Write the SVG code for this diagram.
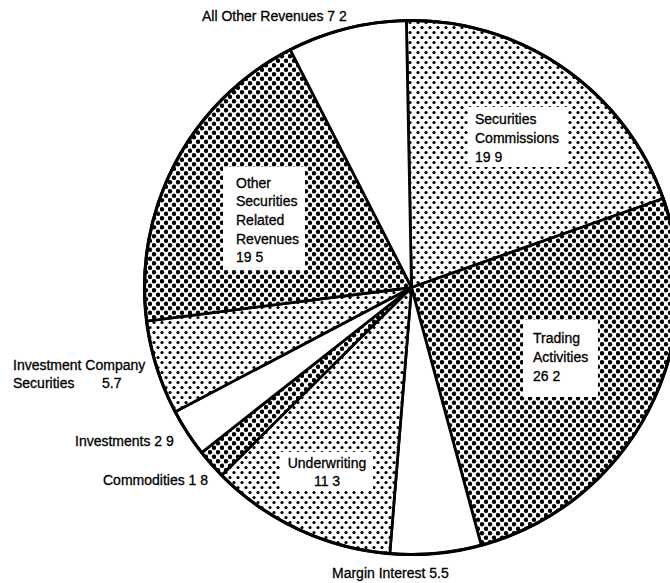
<svg xmlns="http://www.w3.org/2000/svg" width="670" height="583" viewBox="0 0 670 583">
<defs>
<pattern id="light" patternUnits="userSpaceOnUse" width="8" height="10">
<rect width="8" height="10" fill="#fff"/>
<circle cx="2" cy="2.5" r="1.6" fill="#000"/>
<circle cx="6" cy="7.5" r="1.6" fill="#000"/>
</pattern>
<pattern id="dark" patternUnits="userSpaceOnUse" width="8" height="9">
<rect width="8" height="9" fill="#fff"/>
<circle cx="2" cy="2.25" r="2.2" fill="#000"/>
<circle cx="6" cy="6.75" r="2.2" fill="#000"/>
</pattern>
</defs>
<style>
.slice{stroke:#000;stroke-width:2.8;stroke-linejoin:round}
.lt{fill:url(#light)}
.dk{fill:url(#dark)}
.wh{fill:#fff}
.box{fill:#fff;stroke:none}
text{font-family:"Liberation Sans",Arial,sans-serif;font-size:14px;fill:#000;stroke:#000;stroke-width:0.3}
</style>
<rect width="670" height="583" fill="#fff"/>
<g id="securities-commissions">
<path class="slice lt" d="M411.5,287.5 L406.37,20.55 A267,267 0 0 1 663.26,198.55 Z"/>
<rect class="box" x="468" y="107" width="100" height="60"/>
<text x="475" y="124">Securities</text>
<text x="475" y="143">Commissions</text>
<text x="475" y="162">19 9</text>
</g>
<g id="trading-activities">
<path class="slice dk" d="M411.5,287.5 L663.26,198.55 A267,267 0 0 1 481.24,545.24 Z"/>
<rect class="box" x="523" y="320" width="75" height="77"/>
<text x="533" y="343">Trading</text>
<text x="533" y="362">Activities</text>
<text x="533" y="381">26 2</text>
</g>
<g id="margin-interest">
<path class="slice wh" d="M411.5,287.5 L481.24,545.24 A267,267 0 0 1 389.81,553.62 Z"/>
<text x="332" y="578">Margin Interest 5.5</text>
</g>
<g id="underwriting">
<path class="slice lt" d="M411.5,287.5 L389.81,553.62 A267,267 0 0 1 221.58,475.18 Z"/>
<rect class="box" x="280" y="452" width="93" height="38"/>
<text x="327" y="468" text-anchor="middle">Underwriting</text>
<text x="327" y="486" text-anchor="middle">11 3</text>
</g>
<g id="commodities">
<path class="slice dk" d="M411.5,287.5 L221.58,475.18 A267,267 0 0 1 201.62,452.54 Z"/>
<text x="103" y="485">Commodities 1 8</text>
</g>
<g id="investments">
<path class="slice wh" d="M411.5,287.5 L201.62,452.54 A267,267 0 0 1 175.18,411.78 Z"/>
<text x="75" y="446">Investments 2 9</text>
</g>
<g id="investment-company-securities">
<path class="slice lt" d="M411.5,287.5 L175.18,411.78 A267,267 0 0 1 146.62,321.06 Z"/>
<text x="13" y="370">Investment Company</text>
<text x="13" y="388">Securities</text>
<text x="102" y="388">5.7</text>
</g>
<g id="other-securities-related-revenues">
<path class="slice dk" d="M411.5,287.5 L146.62,321.06 A267,267 0 0 1 290.2,49.64 Z"/>
<rect class="box" x="223" y="167" width="82" height="103"/>
<text x="236" y="188">Other</text>
<text x="236" y="206">Securities</text>
<text x="236" y="225">Related</text>
<text x="236" y="244">Revenues</text>
<text x="236" y="262">19 5</text>
</g>
<g id="all-other-revenues">
<path class="slice wh" d="M411.5,287.5 L290.2,49.64 A267,267 0 0 1 406.37,20.55 Z"/>
<text x="202" y="21">All Other Revenues 7 2</text>
</g>
<g id="outline">
<circle cx="411.5" cy="287.5" r="267" fill="none" stroke="#000" stroke-width="3.2"/>
</g>
</svg>
